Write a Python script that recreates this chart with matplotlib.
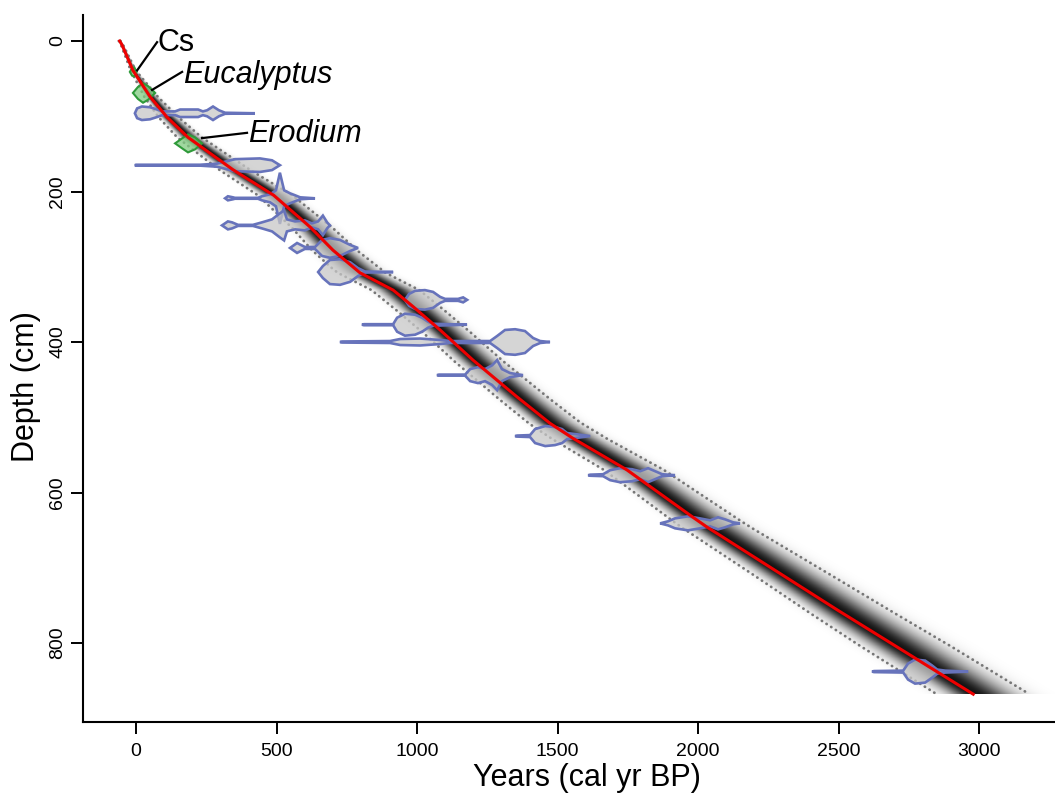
import numpy as np
import matplotlib
matplotlib.use("Agg")
import matplotlib.pyplot as plt

plt.rcParams['font.family'] = ['Liberation Sans', 'DejaVu Sans']

# ---------------- data ----------------
# median age-depth curve
med_depth = [0, 5, 39, 74, 101, 128, 149, 171, 205, 247, 278, 308, 331, 353, 384,
             424, 473, 508, 528, 570, 633, 646, 756, 868]
med_age = [-58, -50, -11, 50, 110, 185, 263, 345, 490, 619, 701, 797, 915, 986, 1082,
           1199, 1356, 1473, 1555, 1747, 1982, 2032, 2495, 2979]

# 95% range offsets from median (younger / older)
bnd_depth = [0, 40, 100, 150, 200, 300, 400, 500, 600, 700, 800, 868]
low_off = [-3, -8, -30, -45, -55, -80, -70, -75, -85, -100, -125, -130]
up_off = [3, 10, 40, 55, 65, 90, 100, 110, 140, 170, 195, 200]

# calibrated radiocarbon dates (depth, ages, half-height of distribution)
date_depth = [96, 165, 209, 245, 275, 307, 344, 377, 400, 444, 525, 577, 641, 838]
date_ages = [
    [-4, 4, 21, 50, 75, 93, 139, 157, 192, 221, 238, 253, 274, 295, 317, 423],
    [-4, 0, 228, 288, 352, 441, 484, 512],
    [317, 327, 345, 352, 434, 448, 477, 498, 512, 527, 548, 566, 584, 637],
    [306, 327, 342, 363, 416, 448, 484, 512, 527, 537, 566, 601, 626, 648, 665, 680, 690],
    [548, 573, 601, 637, 662, 690, 726, 762, 790],
    [648, 665, 690, 726, 762, 790, 815, 915],
    [957, 972, 993, 1028, 1057, 1082, 1100, 1146, 1164, 1178],
    [804, 811, 915, 929, 957, 993, 1018, 1039, 1057, 1178],
    [726, 733, 904, 940, 1011, 1082, 1117, 1260, 1285, 1313, 1349, 1384, 1413, 1438, 1473],
    [1071, 1078, 1171, 1189, 1217, 1242, 1267, 1285, 1302, 1331, 1377],
    [1349, 1356, 1402, 1420, 1456, 1491, 1516, 1534, 1562, 1616],
    [1609, 1616, 1662, 1687, 1722, 1765, 1794, 1822, 1847, 1872, 1918],
    [1865, 1872, 1893, 1918, 1964, 2007, 2043, 2071, 2096, 2125, 2149],
    [2619, 2626, 2730, 2747, 2772, 2808, 2833, 2851, 2879, 2961],
]
date_dens = [
    [0, 6.5, 9, 8, 5, 2.5, 2.5, 5, 5, 5, 2.5, 4, 9, 4, 0.7, 0],
    [0, 0.6, 0.6, 2, 8, 9, 6.5, 0],
    [0, 2.7, 1.3, 0.6, 0.6, 2.7, 5.3, 10.6, 34, 10.6, 6.6, 4, 1.3, 0],
    [0, 5.3, 4, 0.7, 0.7, 4, 8, 16, 20, 8, 5.3, 6.6, 2.7, 5.3, 13, 4, 0],
    [0, 6.6, 1.3, 1.3, 10.6, 13, 10.6, 4, 0],
    [0, 8, 16, 17, 13, 5.3, 0.7, 0],
    [0, 8, 12, 13, 10.6, 4, 1.3, 1.3, 3.3, 0],
    [0, 0.7, 0.7, 9.3, 14.6, 13.3, 9.3, 4, 1.3, 0],
    [0, 0.7, 1.3, 4, 4.6, 2.7, 1.3, 1.3, 8, 16, 17, 14.6, 5.3, 1.3, 0],
    [0, 0.7, 0.7, 8, 10.6, 8, 13, 20, 8, 2.7, 0],
    [0, 0.7, 1.3, 9.3, 13.3, 12, 9.3, 4, 2.7, 0],
    [0, 0.7, 1.3, 6.6, 9.3, 8, 5.3, 9.3, 5.3, 1.3, 0],
    [0, 0.7, 2.7, 6.6, 9.3, 6.6, 4, 8, 5.3, 1.3, 0],
    [0, 0.7, 1.3, 10.6, 16, 14.6, 8, 2.7, 1.3, 0],
]

# other markers (Cs, Eucalyptus, Erodium)
mark_labels = ['Cs', 'Eucalyptus', 'Erodium']
mark_italic = [False, True, True]
mark_depth = [41, 69, 136]
mark_ages = [[-22, -14, -6, 2], [-11, 7, 25, 43, 68], [139, 164, 185, 210, 235]]
mark_dens = [[0, 5, 6, 0], [0, 8, 13, 9, 0], [0, 6.6, 12, 8, 0]]
label_xy = [(75, 13), (166, 56), (397, 134)]
leader_from = [(75, 1.5), (164, 41), (395, 122)]
leader_to = [(4, 39), (57, 65), (235, 129)]

xticks = [0, 500, 1000, 1500, 2000, 2500, 3000]
yticks = [0, 200, 400, 600, 800]

# ---------------- figure ----------------
fig = plt.figure(figsize=(10.55, 7.95), dpi=100)
ax = fig.add_axes([83 / 1055, 73 / 795, 972 / 1055, 707 / 795])

# grey-scale probability cloud
d = np.arange(0, max(med_depth) + 1, 1.0)
a = np.arange(-150, 3300, 1.0)
med = np.interp(d, med_depth, med_age)
lo = med + np.interp(d, bnd_depth, low_off)
up = med + np.interp(d, bnd_depth, up_off)
sl = (med - lo) / 1.96
sr = (up - med) / 1.96
A = a[None, :]
M = med[:, None]
sig = np.where(A < M, sl[:, None], sr[:, None])
z = np.exp(-0.5 * ((A - M) / sig) ** 2)
rgba = np.zeros(z.shape + (4,))
rgba[..., 3] = np.clip(0.93 * z ** 1.3, 0, 1)
ax.imshow(rgba, extent=[a[0], a[-1], d[-1], d[0]], aspect='auto',
          interpolation='bilinear', origin='upper', zorder=1)

# 95% bounds
for bound in (lo, up):
    ax.plot(bound, d, color='#777777', lw=2.0, ls=(0, (0.1, 1.9)),
            dash_capstyle='round', zorder=3)

# dates
for dep, ages, dens in zip(date_depth, date_ages, date_dens):
    ages = np.array(ages, float)
    dens = np.array(dens, float)
    xs = np.concatenate([ages, ages[::-1]])
    ys = np.concatenate([dep - dens, (dep + dens)[::-1]])
    ax.fill(xs, ys, facecolor=(0.78, 0.78, 0.78, 0.75), edgecolor='#6773bb',
            lw=1.9, zorder=4)

for dep, ages, dens in zip(mark_depth, mark_ages, mark_dens):
    ages = np.array(ages, float)
    dens = np.array(dens, float)
    xs = np.concatenate([ages, ages[::-1]])
    ys = np.concatenate([dep - dens, (dep + dens)[::-1]])
    ax.fill(xs, ys, facecolor=(0.50, 0.80, 0.50, 0.75), edgecolor='#2f9a3a',
            lw=1.5, zorder=4)

# median
ax.plot(med_age, med_depth, color='#ee0000', lw=2.2, zorder=5)

# annotations
for lab, it, (tx, ty), (fx, fy), (px, py) in zip(mark_labels, mark_italic, label_xy,
                                                  leader_from, leader_to):
    ax.text(tx, ty, lab, fontsize=22, style='italic' if it else 'normal',
            ha='left', va='baseline', zorder=6)
    ax.plot([fx, px], [fy, py], color='black', lw=1.6, zorder=6)

# axes styling
ax.set_xlim(-188.6, 3270)
ax.set_ylim(905, -34.6)
ax.set_xticks(xticks)
ax.set_yticks(yticks)
ax.spines['top'].set_visible(False)
ax.spines['right'].set_visible(False)
for s in ('left', 'bottom'):
    ax.spines[s].set_linewidth(1.5)
ax.tick_params(direction='out', length=8.6, width=1.4, labelsize=14, colors='black')
ax.tick_params(axis='x', pad=6.3)
ax.tick_params(axis='y', pad=3.6, labelrotation=90)
for lab in ax.get_yticklabels():
    lab.set_va('center')
ax.set_xlabel('Years (cal yr BP)', fontsize=22)
ax.xaxis.set_label_coords(0.5185, -0.058)
ax.set_ylabel('Depth (cm)', fontsize=22)
ax.yaxis.set_label_coords(-0.0427, 0.475)

fig.savefig('out.png', dpi=100)
